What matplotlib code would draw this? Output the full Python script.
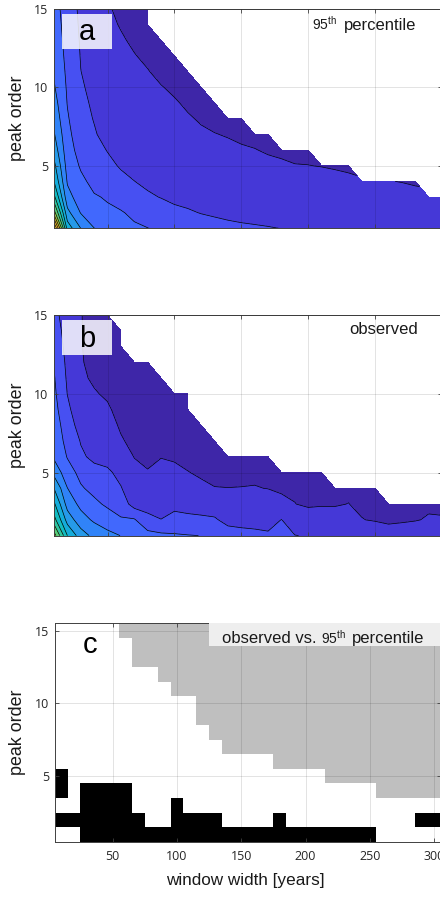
import numpy as np
import matplotlib
matplotlib.use("Agg")
import matplotlib.pyplot as plt
from matplotlib.colors import LinearSegmentedColormap, ListedColormap, Normalize
from matplotlib.patches import Rectangle

nan = np.nan

# ---------------------------------------------------------------- data
window_years = [10, 20, 30, 40, 50, 60, 70, 80, 90, 100,
                110, 120, 130, 140, 150, 160, 170, 180, 190, 200,
                210, 220, 230, 240, 250, 260, 270, 280, 290, 300]
peak_orders = [1, 2, 3, 4, 5, 6, 7, 8, 9, 10, 11, 12, 13, 14, 15]

# 95th percentile of the surrogate statistic; one list per window width,
# peak order 1 upward (missing orders are undefined)
pct95 = [
    [14.5, 10.5, 8.3, 7.0, 6.3, 5.6, 5.1, 4.7, 4.4, 4.1, 3.9, 3.8, 3.7, 3.6, 3.5],
    [6.6, 5.3, 4.35, 3.9, 3.6, 3.4, 3.25, 3.1, 2.96, 2.88, 2.8, 2.7, 2.6, 2.5, 2.4],
    [5.0, 3.95, 3.5, 3.2, 2.9, 2.65, 2.45, 2.3, 2.2, 2.1, 2.01, 1.96, 1.92, 1.88, 1.85],
    [4.02, 3.4, 3.08, 2.75, 2.45, 2.25, 2.08, 1.96, 1.87, 1.78, 1.7, 1.62, 1.56, 1.5, 1.45],
    [3.6, 3.15, 2.92, 2.45, 2.18, 1.97, 1.72, 1.58, 1.47, 1.38, 1.3, 1.23, 1.16, 1.1, 1.05],
    [3.3, 3.08, 2.6, 2.2, 1.93, 1.74, 1.59, 1.47, 1.37, 1.28, 1.2, 1.12, 1.05, 0.97, 0.9],
    [3.15, 2.8, 2.3, 2.01, 1.76, 1.57, 1.44, 1.33, 1.24, 1.16, 1.09, 1.02, 0.93, 0.85, 0.78],
    [3.02, 2.55, 2.12, 1.83, 1.61, 1.45, 1.33, 1.23, 1.15, 1.08, 1.02, 0.92, 0.83, 0.76, 0.7],
    [2.85, 2.4, 1.97, 1.7, 1.5, 1.36, 1.25, 1.16, 1.09, 1.02, 0.9, 0.8, 0.73],
    [2.7, 2.2, 1.82, 1.58, 1.41, 1.28, 1.18, 1.1, 1.04, 0.93, 0.8, 0.7],
    [2.55, 2.1, 1.73, 1.48, 1.33, 1.21, 1.12, 1.04, 0.94, 0.82, 0.7],
    [2.42, 1.97, 1.62, 1.4, 1.26, 1.15, 1.06, 0.96, 0.85, 0.74],
    [2.32, 1.88, 1.56, 1.36, 1.22, 1.11, 1.01, 0.92, 0.82],
    [2.22, 1.8, 1.5, 1.31, 1.18, 1.07, 0.98, 0.9],
    [2.15, 1.74, 1.46, 1.27, 1.14, 1.03, 0.95, 0.88],
    [2.1, 1.7, 1.42, 1.24, 1.11, 1.01, 0.92],
    [2.05, 1.66, 1.39, 1.21, 1.07, 0.97, 0.9],
    [1.99, 1.62, 1.36, 1.18, 1.04, 0.95],
    [1.95, 1.58, 1.33, 1.15, 1.01, 0.93],
    [1.9, 1.55, 1.3, 1.13, 1.005, 0.92],
    [1.86, 1.52, 1.28, 1.12, 0.99],
    [1.82, 1.49, 1.25, 1.09, 0.97],
    [1.78, 1.46, 1.22, 1.06, 0.95],
    [1.75, 1.43, 1.19, 1.03],
    [1.72, 1.41, 1.17, 1.02],
    [1.69, 1.39, 1.15, 1.01],
    [1.66, 1.37, 1.13, 0.99],
    [1.63, 1.35, 1.1, 0.96],
    [1.6, 1.33, 1.08],
    [1.58, 1.31, 1.06],
]

# observed statistic, same layout
observed = [
    [10.5, 8.4, 7.2, 6.0, 4.7, 3.85, 3.65, 3.5, 3.35, 3.2, 3.08, 2.95, 2.7, 2.5, 2.3],
    [7.0, 5.6, 4.6, 4.02, 3.4, 2.95, 2.7, 2.5, 2.2, 1.98, 1.87, 1.77, 1.68, 1.6, 1.5],
    [5.5, 4.4, 3.75, 3.1, 2.75, 2.15, 1.95, 1.6, 1.4, 1.25, 1.06, 1.03, 1.02, 1.02, 1.02],
    [4.7, 3.85, 3.2, 2.75, 2.3, 1.8, 1.5, 1.3, 1.15, 1.03, 0.95, 0.9, 0.87, 0.85, 0.83],
    [4.3, 3.45, 2.85, 2.5, 2.15, 1.7, 1.35, 1.15, 1.05, 0.95, 0.88, 0.84, 0.8, 0.77, 0.75],
    [3.98, 3.1, 2.55, 2.05, 1.75, 1.4, 1.04, 0.95, 0.88, 0.83, 0.79, 0.76, 0.73, 0.7],
    [3.7, 3.1, 1.6, 1.45, 1.22, 0.98, 0.9, 0.84, 0.8, 0.76, 0.73, 0.7],
    [3.4, 2.15, 1.8, 1.4, 1.02, 0.93, 0.87, 0.82, 0.78, 0.75, 0.72, 0.7],
    [3.2, 2.02, 1.6, 1.3, 1.1, 0.99, 0.9, 0.84, 0.79, 0.75, 0.72],
    [3.1, 2.3, 1.75, 1.35, 1.08, 0.96, 0.88, 0.82, 0.77, 0.73],
    [3.04, 2.2, 1.7, 1.3, 1.01, 0.92, 0.86, 0.8, 0.76, 0.72],
    [2.99, 2.15, 1.65, 1.06, 0.96, 0.88, 0.82, 0.77],
    [2.7, 2.1, 1.55, 1.01, 0.92, 0.86, 0.8],
    [2.4, 1.75, 1.35, 1.005, 0.9, 0.84],
    [2.3, 1.7, 1.35, 1.01, 0.91, 0.85],
    [2.25, 1.65, 1.32, 1.02, 0.92, 0.86],
    [2.15, 1.62, 1.28, 0.99, 0.9, 0.85],
    [2.5, 2.02, 1.15, 0.92, 0.88],
    [2.02, 1.5, 1.01, 0.93, 0.87],
    [1.95, 1.3, 0.92, 0.9, 0.85],
    [1.9, 1.3, 0.95, 0.88, 0.84],
    [1.85, 1.28, 0.95, 0.88],
    [1.85, 1.4, 1.01, 0.9],
    [1.8, 1.02, 0.9, 0.85],
    [1.5, 0.95, 0.88, 0.84],
    [1.4, 0.85, 0.82],
    [1.45, 0.9, 0.85],
    [1.5, 0.96, 0.88],
    [1.55, 1.06, 0.9],
    [1.55, 1.04, 0.9],
]

# window widths where the observed value exceeds the 95th percentile
exceed_order1 = [30, 40, 50, 60, 70, 80, 90, 100, 110, 120, 130, 140, 150,
                 160, 170, 180, 190, 200, 210, 220, 230, 240, 250]
exceed_order2 = [10, 20, 30, 40, 50, 60, 70, 100, 110, 120, 130, 180, 290, 300]
exceed_order3 = [30, 40, 50, 60, 100]
exceed_order4 = [10, 30, 40, 50, 60]
exceed_order5 = [10]

# ---------------------------------------------------------------- style
plt.rcParams['font.family'] = ['Liberation Sans', 'DejaVu Sans']
plt.rcParams['mathtext.fontset'] = 'custom'
plt.rcParams['mathtext.rm'] = 'Liberation Sans'

parula_anchors = [
    (0.2422, 0.1504, 0.6603), (0.2706, 0.2147, 0.8364), (0.2813, 0.3006, 0.9414),
    (0.2699, 0.3892, 0.9906), (0.1963, 0.4847, 0.9892), (0.1687, 0.5703, 0.9359),
    (0.1248, 0.6459, 0.8883), (0.0297, 0.7082, 0.8163), (0.0964, 0.7500, 0.7120),
    (0.2161, 0.7843, 0.5923), (0.3909, 0.8029, 0.4354), (0.6174, 0.7876, 0.2612),
    (0.8203, 0.7498, 0.1535), (0.9728, 0.7298, 0.2394), (0.9892, 0.8136, 0.1885),
    (0.9597, 0.9135, 0.1423), (0.9769, 0.9839, 0.0805)]
anchor_pos = [0, 4, 8, 12, 16, 20, 24, 28, 32, 36, 40, 44, 48, 52, 56, 60, 63]
parula = LinearSegmentedColormap.from_list(
    'parula', [(p / 63.0, c) for p, c in zip(anchor_pos, parula_anchors)])

levels = np.arange(0, 16)
band_norm = Normalize(vmin=0.5, vmax=15.0)

axis_color = '#404040'
tick_color = '#262626'
text_color = '#1a1a1a'


def as_grid(columns):
    n = len(peak_orders)
    return np.array([c + [nan] * (n - len(c)) for c in columns], dtype=float).T


def style_axes(ax, xlim, ylim, show_xlabels):
    ax.set_xlim(*xlim)
    ax.set_ylim(*ylim)
    ax.set_xticks([50, 100, 150, 200, 250, 300])
    ax.set_yticks([5, 10, 15])
    if not show_xlabels:
        ax.set_xticklabels([])
    ax.tick_params(direction='in', top=True, right=True, length=3, width=0.6,
                   color=axis_color, labelcolor=tick_color, labelsize=9,
                   labelfontfamily='Open Sans', pad=4)
    ax.tick_params(axis='x', pad=6)
    for sp in ax.spines.values():
        sp.set_color(axis_color)
        sp.set_linewidth(0.7)
    ax.grid(True, color='k', alpha=0.13, linewidth=0.6)
    ax.set_axisbelow(False)


def percentile_note(ax, x95, xword, ybase):
    ax.text(x95, ybase, r'$\mathregular{95^{th}}$', transform=ax.transAxes,
            fontsize=10, ha='left', va='baseline', color=text_color, zorder=5)
    ax.text(xword, ybase, 'percentile', transform=ax.transAxes,
            fontsize=12, ha='left', va='baseline', color=text_color, zorder=5)


fig = plt.figure(figsize=(4.4, 9.02), dpi=100)
W, H = 440.0, 902.0

ax_a = fig.add_axes([54 / W, 1 - 228.4 / H, 388 / W, 219.4 / H])
ax_b = fig.add_axes([54 / W, 1 - 535.6 / H, 388 / W, 220.6 / H])
ax_c = fig.add_axes([54.7 / W, 1 - 841.7 / H, 386 / W, 218.4 / H])

X, Y = np.meshgrid(window_years, peak_orders)

for ax, cols, letter in [(ax_a, pct95, 'a'), (ax_b, observed, 'b')]:
    Z = np.ma.masked_invalid(as_grid(cols))
    ax.contourf(X, Y, Z, levels=levels, cmap=parula, norm=band_norm)
    ax.contour(X, Y, Z, levels=levels[1:], colors='k', linewidths=0.5)
    style_axes(ax, (10, 300), (1, 15), False)
    ax.add_patch(Rectangle((0.0214, 0.818), 0.129, 0.159, transform=ax.transAxes,
                           facecolor='white', alpha=0.84, edgecolor='none', zorder=4))
    ax.text(0.086, 0.893, letter, transform=ax.transAxes, fontsize=21,
            ha='center', va='center', zorder=5)

percentile_note(ax_a, 0.6657, 0.7474, 0.904)
ax_b.text(0.761, 0.9125, 'observed', transform=ax_b.transAxes, fontsize=12,
          ha='left', va='baseline', color=text_color, zorder=5)

# panel c: white = not exceeded, grey = undefined, black = exceedance
Zobs = as_grid(observed)
state = np.zeros_like(Zobs)
state[np.isnan(Zobs)] = 1
for order, widths in [(1, exceed_order1), (2, exceed_order2), (3, exceed_order3),
                      (4, exceed_order4), (5, exceed_order5)]:
    for w in widths:
        state[peak_orders.index(order), window_years.index(w)] = 2

x_edges = np.array(window_years + [window_years[-1] + 10]) - 5
y_edges = np.array(peak_orders + [peak_orders[-1] + 1]) - 0.5
ax_c.pcolormesh(x_edges, y_edges, state,
                cmap=ListedColormap(['white', '#bfbfbf', 'black']),
                vmin=-0.5, vmax=2.5)
style_axes(ax_c, (5, 305), (0.5, 15.5), True)
ax_c.add_patch(Rectangle((0.40, 0.897), 0.62, 0.103, transform=ax_c.transAxes,
                         facecolor='#eeeeee', edgecolor='none', zorder=4, clip_on=False))
ax_c.text(0.4334, 0.908, 'observed vs.', transform=ax_c.transAxes, fontsize=12,
          ha='left', va='baseline', color=text_color, zorder=5)
percentile_note(ax_c, 0.6899, 0.7705, 0.908)
ax_c.text(0.0915, 0.90, 'c', transform=ax_c.transAxes, fontsize=21,
          ha='center', va='center', zorder=5)

for yc in [1 - 118.7 / H, 1 - 425.3 / H, 1 - 732.5 / H]:
    fig.text(18 / W, yc, 'peak order', rotation=90, fontsize=12.9,
             ha='center', va='center', color=text_color)
fig.text(245 / W, 1 - 880 / H, 'window width [years]', fontsize=12.3,
         ha='center', va='center', color=text_color)

fig.savefig('out.png', dpi=100)
